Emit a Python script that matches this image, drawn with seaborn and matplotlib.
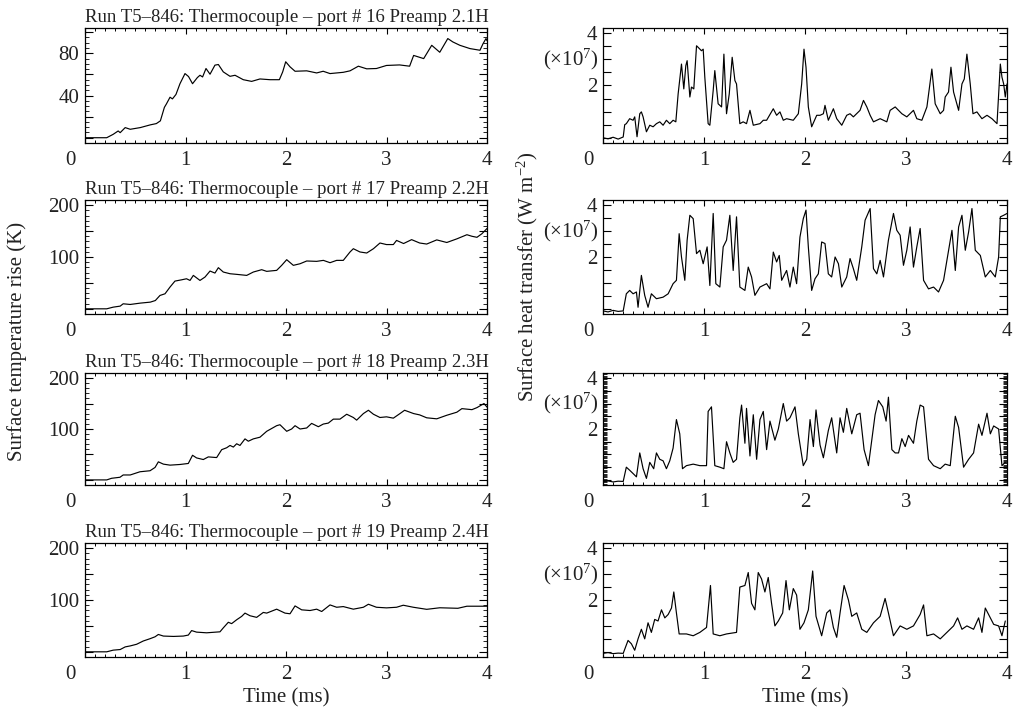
import numpy as np
import pandas as pd
import seaborn as sns
import matplotlib
matplotlib.use("Agg")
import matplotlib.pyplot as plt
from matplotlib.ticker import MultipleLocator, FixedLocator, FuncFormatter
from matplotlib.transforms import ScaledTranslation

# ---------------- data (time in ms) ----------------
titles = [
    "Run T5\u2013846: Thermocouple \u2013 port # 16 Preamp 2.1H",
    "Run T5\u2013846: Thermocouple \u2013 port # 17 Preamp 2.2H",
    "Run T5\u2013846: Thermocouple \u2013 port # 18 Preamp 2.3H",
    "Run T5\u2013846: Thermocouple \u2013 port # 19 Preamp 2.4H",
]

# Surface temperature rise (K)
t_L1 = [0.0, 0.216, 0.28, 0.33, 0.35, 0.40, 0.45, 0.55, 0.65, 0.71, 0.75, 0.79, 0.81, 0.846, 0.87,
        0.905, 0.945, 0.995, 1.03, 1.07, 1.118, 1.144, 1.17, 1.204, 1.244, 1.293, 1.327, 1.376, 1.443,
        1.493, 1.575, 1.658, 1.741, 1.841, 1.934, 1.967, 1.997, 2.04, 2.09, 2.206, 2.305, 2.37, 2.438,
        2.57, 2.637, 2.72, 2.803, 2.90, 3.0, 3.13, 3.23, 3.27, 3.37, 3.45, 3.53, 3.61, 3.66, 3.73, 3.83,
        3.93, 3.96, 3.99, 4.0]
v_L1 = [0, 0, 3.2, 6.4, 4.8, 9.6, 8.0, 9.6, 12.2, 13.4, 16, 28.8, 32, 38.4, 36.8,
        41, 51.2, 60.8, 58, 51.2, 57, 59.2, 57.6, 65.6, 60.2, 68.8, 69.4, 62.4, 58.2,
        59.2, 55, 53.4, 55.7, 55, 55, 62.4, 72, 67.2, 63, 63.4, 61.4, 63, 60.8,
        62, 63.4, 67.8, 65.3, 65.6, 68.5, 69, 67.8, 78, 75, 87.6, 81, 94, 90.8, 87.6, 84.5,
        82.9, 89, 94, 92]

t_L2 = [0.0, 0.216, 0.28, 0.35, 0.38, 0.45, 0.55, 0.65, 0.70, 0.746, 0.796, 0.846, 0.895, 0.962,
        1.01, 1.045, 1.078, 1.144, 1.194, 1.244, 1.293, 1.327, 1.376, 1.443, 1.509, 1.609, 1.675,
        1.758, 1.808, 1.907, 1.957, 2.007, 2.073, 2.14, 2.206, 2.305, 2.372, 2.438, 2.504, 2.57,
        2.637, 2.67, 2.736, 2.803, 2.87, 2.935, 3.0, 3.068, 3.10, 3.17, 3.25, 3.33, 3.4, 3.5, 3.6,
        3.7, 3.8, 3.85, 3.9, 3.95, 4.0]
v_L2 = [0, 0, 3.2, 5.2, 9.7, 8.4, 11, 12.9, 16, 25.8, 29, 42, 53.5, 56,
        58, 54.8, 64.5, 54.8, 61.3, 72.9, 69, 79.4, 71, 67.7, 66.5, 64.5, 71,
        75.5, 72.3, 74.2, 83.9, 94.8, 83.9, 87, 92.3, 91.6, 93.5, 89, 93.5, 93.5,
        109.7, 116, 109.7, 107.7, 116, 127, 124, 124, 132, 126, 133.5, 127, 125, 133, 128,
        135, 143, 140, 138, 145, 155]

t_L3 = [0.0, 0.216, 0.265, 0.348, 0.38, 0.45, 0.547, 0.647, 0.697, 0.73, 0.78, 0.846, 0.945, 1.028,
        1.07, 1.11, 1.177, 1.227, 1.31, 1.36, 1.41, 1.443, 1.476, 1.509, 1.542, 1.592, 1.625, 1.675,
        1.741, 1.808, 1.907, 1.94, 2.007, 2.056, 2.09, 2.14, 2.206, 2.255, 2.322, 2.371, 2.421,
        2.471, 2.537, 2.604, 2.67, 2.703, 2.77, 2.82, 2.87, 2.935, 3.0, 3.068, 3.134, 3.18, 3.27,
        3.33, 3.4, 3.5, 3.6, 3.7, 3.75, 3.85, 3.9, 3.97, 4.0]
v_L3 = [0, 0, 3.2, 5.2, 9.7, 9.7, 16, 18, 24.5, 35.5, 31, 29, 30.3, 32.3,
        48.4, 43.2, 40, 45.2, 43.9, 59.4, 63.2, 67.7, 64.5, 71, 67.7, 80.6, 76, 80.6,
        83.9, 95.5, 106.5, 108.4, 95.5, 100, 106.5, 100, 102, 111, 104.5, 109.7, 111.6,
        119.4, 119.4, 129, 122.6, 117.4, 130.3, 136.8, 129, 122.6, 123.9, 121.3, 130.3, 136.8, 130.3,
        127.7, 122, 120, 127, 133, 140, 138, 142, 150, 143]

t_L4 = [0.0, 0.216, 0.28, 0.35, 0.40, 0.45, 0.514, 0.58, 0.647, 0.697, 0.73, 0.78, 0.88, 0.978,
        1.028, 1.061, 1.11, 1.21, 1.343, 1.376, 1.426, 1.459, 1.51, 1.559, 1.592, 1.642, 1.708,
        1.774, 1.808, 1.907, 1.99, 2.04, 2.09, 2.156, 2.239, 2.305, 2.355, 2.438, 2.504, 2.57,
        2.67, 2.77, 2.82, 2.90, 3.0, 3.10, 3.167, 3.267, 3.4, 3.53, 3.71, 3.8, 4.0]
v_L4 = [0, 0, 3.2, 4.4, 9.5, 11.4, 14.6, 20.9, 25.3, 29, 33.5, 30.4, 29.7, 30.4,
        32.3, 41, 38, 36.7, 38.6, 46.2, 57, 54.4, 62, 68.4, 74.7, 69.6, 66.5,
        76, 74.7, 82.3, 74.7, 73.4, 88.6, 81, 79.7, 82.3, 77.8, 90.5, 86, 87.3,
        82.3, 86, 91.8, 86, 84.8, 86, 89.9, 86, 82, 85, 84, 88, 88]

# Surface heat transfer (x1e7 W m^-2)
t_R1 = [0.00, 0.05, 0.10, 0.15, 0.20, 0.215, 0.231, 0.264, 0.298, 0.314,
        0.337, 0.364, 0.380, 0.397, 0.430, 0.463, 0.496, 0.529, 0.562, 0.595,
        0.628, 0.661, 0.694, 0.721, 0.744, 0.777, 0.800, 0.820, 0.833, 0.860,
        0.876, 0.899, 0.926, 0.942, 0.975, 0.992, 1.008, 1.041, 1.058, 1.091,
        1.107, 1.140, 1.174, 1.197, 1.223, 1.250, 1.279, 1.306, 1.322, 1.355,
        1.388, 1.421, 1.455, 1.488, 1.554, 1.587, 1.620, 1.686, 1.719, 1.752,
        1.785, 1.818, 1.884, 1.934, 1.967, 1.990, 2.010, 2.033, 2.066, 2.116,
        2.149, 2.182, 2.198, 2.231, 2.281, 2.314, 2.364, 2.413, 2.446, 2.479,
        2.545, 2.579, 2.612, 2.645, 2.678, 2.744, 2.810, 2.843, 2.893, 2.926,
        2.959, 3.008, 3.074, 3.107, 3.157, 3.207, 3.256, 3.289, 3.339, 3.372,
        3.388, 3.421, 3.445, 3.471, 3.521, 3.554, 3.577, 3.603, 3.636, 3.663,
        3.702, 3.752, 3.802, 3.851, 3.901, 3.934, 3.950, 3.967, 3.983, 4.000]
v_R1 = [0.0, -0.04, 0.02, -0.05, 0.03, 0.50, 0.54, 0.73, 0.67, 0.80,
        0.04, 0.92, 0.99, 0.80, 0.23, 0.48, 0.42, 0.54, 0.61, 0.48,
        0.67, 0.54, 0.67, 0.61, 1.68, 2.82, 1.87, 2.76, 2.95, 1.56,
        1.94, 1.87, 3.52, 3.46, 3.33, 3.39, 2.32, 0.54, 0.48, 1.81,
        2.57, 1.30, 1.18, 3.20, 0.92, 1.68, 3.08, 2.19, 2.06, 0.54,
        0.61, 0.54, 1.05, 0.48, 0.54, 0.67, 0.67, 1.11, 0.86, 0.99,
        0.67, 0.73, 0.67, 0.92, 2.06, 3.39, 2.70, 1.18, 0.42, 0.86,
        0.86, 0.92, 1.24, 0.67, 1.11, 0.73, 0.48, 0.86, 0.92, 0.80,
        1.05, 1.43, 1.18, 0.86, 0.61, 0.73, 0.61, 1.05, 1.18, 1.05,
        0.92, 0.80, 1.05, 0.73, 0.67, 1.18, 2.63, 1.30, 0.92, 1.05,
        1.56, 1.75, 2.70, 1.75, 1.05, 2.06, 2.25, 3.20, 2.06, 0.92,
        0.99, 0.73, 0.86, 0.73, 0.54, 2.82, 2.32, 2.06, 1.56, 2.06]

t_R2 = [0.00, 0.05, 0.10, 0.15, 0.20, 0.231, 0.264, 0.298, 0.331, 0.347, 0.380, 0.413, 0.446,
        0.479, 0.529, 0.595, 0.645, 0.694, 0.727, 0.754, 0.777, 0.810, 0.833, 0.860, 0.893,
        0.926, 0.959, 0.992, 1.031, 1.058, 1.091, 1.117, 1.157, 1.190, 1.223, 1.256, 1.289,
        1.322, 1.355, 1.405, 1.438, 1.471, 1.504, 1.554, 1.620, 1.653, 1.686, 1.719, 1.745,
        1.769, 1.818, 1.851, 1.884, 1.917, 1.950, 1.983, 2.010, 2.033, 2.066, 2.099, 2.132,
        2.165, 2.198, 2.231, 2.264, 2.298, 2.331, 2.364, 2.413, 2.446, 2.479, 2.512, 2.562,
        2.595, 2.645, 2.678, 2.711, 2.744, 2.777, 2.826, 2.876, 2.909, 2.942, 2.975, 3.008,
        3.041, 3.074, 3.107, 3.140, 3.174, 3.223, 3.273, 3.322, 3.372, 3.405, 3.455, 3.488,
        3.521, 3.554, 3.587, 3.620, 3.653, 3.686, 3.736, 3.785, 3.835, 3.884, 3.917, 3.934,
        3.967, 4.000]
v_R2 = [-0.08, -0.12, -0.06, -0.10, -0.08, 0.58, 0.71, 0.58, 0.65, 0.06, 1.29, 0.52, 0.06,
        0.58, 0.39, 0.45, 0.58, 0.97, 1.10, 2.90, 2.00, 1.10, 2.65, 3.61, 3.48,
        2.13, 2.26, 1.74, 2.39, 0.90, 3.68, 0.97, 0.84, 2.39, 2.65, 3.61, 1.48,
        3.55, 0.84, 0.71, 1.61, 1.23, 0.52, 0.84, 0.97, 0.77, 2.19, 1.81, 2.06,
        1.10, 1.48, 0.84, 1.61, 0.97, 2.77, 3.48, 3.81, 2.39, 0.71, 1.16, 1.35,
        2.58, 2.52, 1.35, 1.23, 2.00, 1.74, 0.84, 1.23, 1.94, 1.55, 1.10, 2.39,
        3.42, 3.87, 1.55, 1.35, 1.87, 1.23, 2.65, 3.68, 3.03, 2.84, 1.68, 2.26,
        3.16, 1.61, 2.39, 3.10, 1.10, 0.77, 0.84, 0.65, 1.10, 1.87, 3.03, 1.48,
        3.16, 3.61, 2.26, 2.97, 3.87, 2.26, 2.06, 1.23, 1.48, 1.23, 2.00, 3.55,
        3.61, 3.68]

t_R3 = [0.00, 0.05, 0.10, 0.15, 0.20, 0.231, 0.264, 0.298, 0.331, 0.364, 0.397, 0.430, 0.463,
        0.502, 0.529, 0.562, 0.595, 0.628, 0.661, 0.694, 0.727, 0.760, 0.787, 0.826, 0.893,
        0.959, 1.025, 1.041, 1.074, 1.107, 1.157, 1.197, 1.223, 1.256, 1.289, 1.322, 1.355,
        1.372, 1.405, 1.421, 1.455, 1.488, 1.521, 1.554, 1.587, 1.620, 1.653, 1.702, 1.736,
        1.785, 1.818, 1.851, 1.901, 1.934, 1.983, 2.017, 2.050, 2.083, 2.109, 2.149, 2.182,
        2.231, 2.264, 2.314, 2.347, 2.380, 2.413, 2.463, 2.512, 2.545, 2.585, 2.628, 2.661,
        2.694, 2.727, 2.770, 2.803, 2.826, 2.860, 2.893, 2.926, 2.959, 2.992, 3.025, 3.074,
        3.107, 3.140, 3.174, 3.223, 3.273, 3.339, 3.388, 3.438, 3.488, 3.521, 3.570, 3.620,
        3.669, 3.719, 3.752, 3.802, 3.835, 3.868, 3.917, 3.950, 3.983]
v_R3 = [-0.06, -0.04, -0.08, -0.05, -0.06, 0.50, 0.38, 0.25, 0.12, 1.06, 0.44, 0.06, 0.69,
        0.44, 1.06, 0.81, 0.75, 0.44, 0.75, 1.25, 2.37, 1.81, 0.44, 0.56, 0.62,
        0.56, 0.56, 2.69, 2.87, 0.56, 0.50, 0.44, 1.50, 1.06, 0.69, 0.81, 2.44,
        2.94, 1.44, 2.81, 0.94, 2.56, 0.81, 2.37, 2.69, 1.19, 2.31, 1.56, 2.00,
        3.00, 2.31, 2.44, 2.87, 1.81, 0.56, 0.81, 2.37, 1.31, 2.75, 1.37, 0.87,
        1.94, 2.44, 1.06, 2.44, 1.87, 2.81, 1.81, 2.56, 2.62, 1.19, 0.56, 1.56,
        2.56, 3.12, 2.87, 2.31, 3.25, 1.19, 1.06, 1.06, 1.62, 1.31, 1.75, 1.44,
        2.31, 2.94, 2.87, 0.81, 0.56, 0.44, 0.62, 0.56, 2.50, 2.06, 0.50, 0.81,
        1.06, 2.19, 1.75, 2.62, 1.81, 2.12, 2.00, 0.56, 0.69]

t_R4 = [0.00, 0.05, 0.10, 0.15, 0.20, 0.248, 0.281, 0.314, 0.347, 0.380, 0.413, 0.446, 0.479,
        0.512, 0.545, 0.579, 0.612, 0.645, 0.678, 0.701, 0.727, 0.754, 0.826, 0.893, 0.959,
        1.025, 1.064, 1.091, 1.157, 1.223, 1.322, 1.355, 1.405, 1.438, 1.471, 1.504, 1.537,
        1.570, 1.603, 1.636, 1.669, 1.702, 1.736, 1.779, 1.812, 1.845, 1.884, 1.917, 1.950,
        1.990, 2.033, 2.076, 2.109, 2.165, 2.215, 2.248, 2.281, 2.314, 2.347, 2.387, 2.430,
        2.463, 2.512, 2.562, 2.612, 2.678, 2.744, 2.793, 2.826, 2.876, 2.942, 3.008, 3.074,
        3.140, 3.174, 3.207, 3.273, 3.339, 3.405, 3.471, 3.511, 3.554, 3.603, 3.669, 3.719,
        3.752, 3.785, 3.835, 3.868, 3.917, 3.950, 3.983]
v_R4 = [-0.06, -0.03, -0.07, -0.05, -0.06, 0.44, 0.31, 0.06, 0.50, 0.87, 0.50, 1.12, 0.75,
        1.25, 1.19, 1.62, 1.31, 1.44, 1.69, 2.31, 1.50, 0.69, 0.69, 0.62, 0.75,
        0.94, 2.56, 0.69, 0.62, 0.69, 0.75, 2.50, 2.56, 3.06, 1.87, 1.62, 3.06,
        2.81, 2.31, 2.87, 1.87, 1.00, 1.19, 1.50, 2.75, 1.62, 2.44, 2.19, 0.87,
        1.12, 1.62, 3.12, 1.37, 0.62, 1.50, 1.62, 0.94, 0.56, 1.50, 2.56, 2.00,
        1.37, 1.50, 0.87, 0.75, 1.12, 1.37, 2.06, 1.50, 0.62, 1.00, 0.87, 1.00,
        1.44, 1.81, 0.62, 0.69, 0.50, 0.75, 1.00, 1.31, 0.87, 1.00, 0.87, 1.31,
        0.75, 1.69, 1.31, 1.06, 1.00, 0.62, 1.19]

left_series = [(t_L1, v_L1), (t_L2, v_L2), (t_L3, v_L3), (t_L4, v_L4)]
right_series = [(t_R1, v_R1), (t_R2, v_R2), (t_R3, v_R3), (t_R4, v_R4)]

x_ticks = [0, 1, 2, 3, 4]
left_ylabels = [[40, 80], [100, 200], [100, 200], [100, 200]]
right_ylabels = [2, 4]

# ---------------- styling ----------------
sns.set_theme(style="ticks")
plt.rcParams["font.family"] = ["Liberation Serif", "DejaVu Serif"]
plt.rcParams["mathtext.fontset"] = "custom"
plt.rcParams["mathtext.rm"] = "Liberation Serif"
plt.rcParams["mathtext.it"] = "Liberation Serif:italic"
plt.rcParams["axes.linewidth"] = 0.9

W, H = 1017, 712
fig = plt.figure(figsize=(W / 100, H / 100), dpi=100)
fig.patch.set_facecolor("white")

rows = [(28, 143), (200, 314), (373, 485), (543, 657)]
TICK_FS = 15
TITLE_FS = 13.5
TXT = "#222222"


def rect(x0, x1, top, bot):
    return [x0 / W, 1 - bot / H, (x1 - x0) / W, (bot - top) / H]


def style_common(ax):
    ax.set_xlim(0, 4)
    ax.xaxis.set_major_locator(FixedLocator(x_ticks))
    ax.xaxis.set_minor_locator(MultipleLocator(0.1))
    ax.tick_params(which="both", direction="in", top=True, right=True, colors="black",
                   labelsize=TICK_FS, labelcolor=TXT)
    ax.tick_params(axis="x", which="major", length=4, width=0.8, pad=6)
    ax.tick_params(axis="x", which="minor", length=2, width=0.7)
    ax.tick_params(axis="y", which="major", length=6, width=0.8, pad=4)
    ax.tick_params(axis="y", which="minor", length=3, width=0.6)
    for s in ax.spines.values():
        s.set_color("black")
    ax.set_xlabel("")
    ax.set_ylabel("")
    ax.grid(False)


axes_left, axes_right = [], []
for i, (top, bot) in enumerate(rows):
    # Left: temperature
    axl = fig.add_axes(rect(85, 487, top, bot))
    t, v = left_series[i]
    df = pd.DataFrame({"time": t, "value": v})
    sns.lineplot(data=df, x="time", y="value", ax=axl, color="black", linewidth=0.85,
                 estimator=None, sort=False)
    style_common(axl)
    if i == 0:
        axl.set_ylim(-5, 104)
        axl.yaxis.set_major_locator(MultipleLocator(20))
        axl.yaxis.set_minor_locator(MultipleLocator(5))
    else:
        axl.set_ylim(-10, 210)
        axl.yaxis.set_major_locator(MultipleLocator(50))
        axl.yaxis.set_minor_locator(MultipleLocator(10))
    shown = left_ylabels[i]
    axl.yaxis.set_major_formatter(FuncFormatter(
        lambda val, pos, s=shown: f"{int(round(val))}" if int(round(val)) in s else ""))
    axl.set_title(titles[i], loc="left", fontsize=TITLE_FS, pad=4, color=TXT)
    axes_left.append(axl)

    # Right: heat transfer
    axr = fig.add_axes(rect(603, 1007, top, bot))
    t, v = right_series[i]
    df = pd.DataFrame({"time": t, "value": v})
    sns.lineplot(data=df, x="time", y="value", ax=axr, color="black", linewidth=0.85,
                 estimator=None, sort=False)
    style_common(axr)
    axr.set_ylim(-0.2, 4.2)
    axr.yaxis.set_major_locator(MultipleLocator(0.5))
    if i == 2:
        axr.yaxis.set_minor_locator(MultipleLocator(0.05))
    else:
        axr.yaxis.set_minor_locator(FixedLocator([]))
    axr.yaxis.set_major_formatter(FuncFormatter(
        lambda val, pos: f"{int(round(val))}" if abs(val - round(val)) < 1e-6 and int(round(val)) in right_ylabels else ""))
    axr.text(-0.012, 3.0, r"$\mathrm{(\times10^{7})}$", transform=axr.get_yaxis_transform(),
             ha="right", va="center", fontsize=TICK_FS, color=TXT)
    axes_right.append(axr)

fig.canvas.draw()
for ax in axes_left + axes_right:
    labs = ax.xaxis.get_majorticklabels()
    labs[0].set_transform(labs[0].get_transform() + ScaledTranslation(-15 / 100, 0, fig.dpi_scale_trans))

# axis labels
fig.text(17 / W, 1 - 341 / H, "Surface temperature rise (K)", rotation=90, ha="center", va="center",
         fontsize=TICK_FS, color=TXT)
fig.text(527 / W, 1 - 277 / H, r"Surface heat transfer (W m$^{-2}$)", rotation=90, ha="center",
         va="center", fontsize=TICK_FS, color=TXT)
fig.text(286 / W, 1 - 698 / H, "Time (ms)", ha="center", va="center", fontsize=TICK_FS, color=TXT)
fig.text(805 / W, 1 - 698 / H, "Time (ms)", ha="center", va="center", fontsize=TICK_FS, color=TXT)

fig.savefig("out.png", dpi=100, facecolor="white")
